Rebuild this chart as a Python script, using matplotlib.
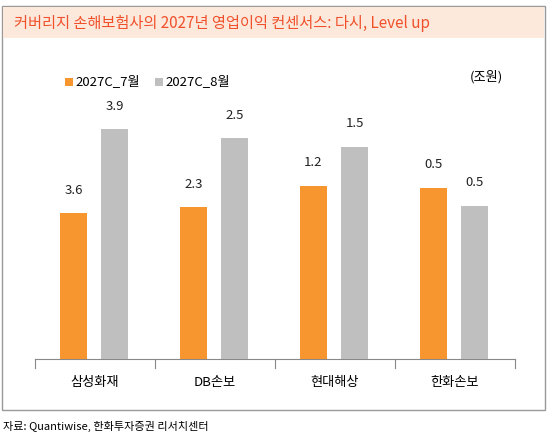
import matplotlib
matplotlib.use("Agg")
import matplotlib.pyplot as plt
from matplotlib.patches import Rectangle

plt.rcParams['font.family'] = ['Noto Sans CJK KR', 'DejaVu Sans']

categories = ['삼성화재', 'DB손보', '현대해상', '한화손보']
jul = [3.6, 2.3, 1.2, 0.54]
aug = [3.9, 2.5, 1.5, 0.46]
# per-group axis ranges (the source chart scales each group separately)
ylims = [(3.08, 4.076), (1.86, 2.669), (-0.13, 2.016), (-0.22, 1.02)]

W, H = 550, 441
fig = plt.figure(figsize=(W/100, H/100), dpi=100)
fig.patches.append(Rectangle((2/W, 1-410/H), 543/W, 404/H, transform=fig.transFigure,
                             fill=False, ec='#999999', lw=1))
fig.patches.append(Rectangle((3/W, 1-38/H), 541/W, 31/H, transform=fig.transFigure,
                             fc='#FDE9DC', ec='none'))
fig.text(14/W, 1-23/H, '커버리지 손해보험사의 2027년 영업이익 컨센서스: 다시, Level up',
         color='#F0502A', fontsize=11, va='center')

pos = [35/W, 1-359/H, 480/W, 279/H]
base = fig.add_axes(pos)
base.set_xlim(-0.5, 3.5)
base.set_ylim(0, 1)
for s in ['top', 'right', 'left']:
    base.spines[s].set_visible(False)
base.spines['bottom'].set_color('#888888')
base.set_yticks([])
base.set_xticks(range(4))
base.set_xticklabels(categories, fontsize=9.5)
base.tick_params(axis='x', length=0, pad=12)
for b in [-0.5, 0.5, 1.5, 2.5, 3.5]:
    base.plot([b, b], [0, -0.032], color='#888888', lw=0.8, clip_on=False)

orange, gray = '#F7962E', '#BFBFBF'
w = 0.225
for i in range(4):
    ax = fig.add_axes(pos)
    ax.patch.set_alpha(0)
    ax.set_xlim(-0.5, 3.5)
    ax.set_ylim(*ylims[i])
    ax.axis('off')
    for x, v, c in [(i - 0.18, jul[i], orange), (i + 0.165, aug[i], gray)]:
        ax.bar(x, v - ylims[i][0], bottom=ylims[i][0], width=w, color=c)
        ax.annotate(f'{v:.1f}', (x, v), xytext=(0, 12), textcoords='offset points',
                    ha='center', va='bottom', fontsize=9.5, color='#222222')

fig.patches.append(Rectangle((65/W, 1-86/H), 8/W, 8/H, transform=fig.transFigure, fc=orange))
fig.text(75/W, 1-82/H, '2027C_7월', fontsize=9.5, va='center')
fig.patches.append(Rectangle((155/W, 1-86/H), 8/W, 8/H, transform=fig.transFigure, fc=gray))
fig.text(165/W, 1-82/H, '2027C_8월', fontsize=9.5, va='center')
fig.text(470/W, 1-77/H, '(조원)', fontsize=9.5, va='center')
fig.text(3/W, 1-426/H, '자료: Quantiwise, 한화투자증권 리서치센터', fontsize=8, va='center')

fig.savefig('out.png', dpi=100)
